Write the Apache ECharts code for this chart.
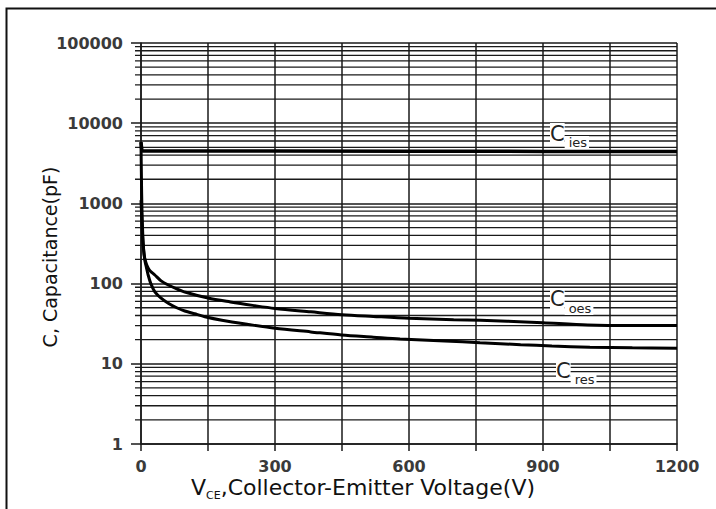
<!DOCTYPE html>
<html>
<head>
<meta charset="utf-8">
<script src="https://cdn.jsdelivr.net/npm/echarts@6/dist/echarts.min.js"></script>
<style>
html,body{margin:0;padding:0;background:#fff;}
#chart{width:716px;height:509px;}
</style>
</head>
<body>
<div id="chart"></div>
<script>
// Data (V in volts, C in pF)
var ciesV = [0, 2, 5, 20, 100, 300, 600, 900, 1200];
var ciesC = [5800, 4550, 4500, 4500, 4500, 4500, 4480, 4450, 4450];

var coesV = [0, 2, 4, 7, 10, 15, 20, 31, 45, 61, 80, 100, 150, 200, 250, 300, 380, 450, 520, 600, 700, 760, 820, 900, 1000, 1100, 1200];
var coesC = [1100, 600, 350, 230, 190, 160, 145, 128, 108, 96, 86, 78, 66, 59, 53.5, 49, 44.5, 41, 39, 37, 35.5, 35, 34, 32.5, 30.5, 30, 30];

var cresV = [0, 1, 2, 4, 6, 9, 12, 16, 22, 31, 45, 61, 80, 98, 120, 143, 181, 240, 300, 380, 449, 520, 580, 680, 759, 850, 920, 1005, 1100, 1200];
var cresC = [5800, 2000, 900, 400, 260, 190, 160, 128, 100, 79, 66, 57, 50, 45.5, 42, 38.7, 35, 31, 27.7, 25, 22.9, 21.5, 20.4, 19.3, 18.3, 17.3, 16.7, 16.1, 15.8, 15.6];

var xTickLabels = [0, 300, 600, 900, 1200];
var yTickLabels = [1, 10, 100, 1000, 10000, 100000];
var minorMultipliers = [2, 3, 4, 5, 6, 7, 8, 9];
var decades = [1, 10, 100, 1000, 10000];

function pairs(xs, ys) { return xs.map(function (x, i) { return [x, ys[i]]; }); }

var minorGrid = [];
decades.forEach(function (d) { minorMultipliers.forEach(function (m) { minorGrid.push([0, m * d]); }); });

var chart = echarts.init(document.getElementById('chart'), null, { renderer: 'svg' });
var gridColor = '#1a1a1a';
var labelFont = 'DejaVu Sans';
var tickColor = '#3a3a3a';

function capLabel(main, sub, left, top, lh) {
  return {
    type: 'text', left: left, top: top, z: 100,
    style: {
      text: '{c|' + main + '}{s|' + sub + '}',
      rich: {
        c: { fontFamily: labelFont, fontSize: 21, lineHeight: lh, verticalAlign: 'top', backgroundColor: '#fff', fill: '#222' },
        s: { fontFamily: labelFont, fontSize: 13, lineHeight: 14, verticalAlign: 'bottom', backgroundColor: '#fff', fill: '#222', padding: [0, 2, 0, 4] }
      }
    }
  };
}

chart.setOption({
  animation: false,
  backgroundColor: '#fff',
  grid: { left: 141, right: 39, top: 43, bottom: 65, containLabel: false },
  xAxis: {
    type: 'value', min: 0, max: 1200, interval: 150,
    axisLine: { show: true, lineStyle: { color: gridColor, width: 1.5 } },
    axisTick: { show: true, length: 7, lineStyle: { color: gridColor, width: 1.5 } },
    splitLine: { show: true, lineStyle: { color: gridColor, width: 1.5 } },
    axisLabel: {
      margin: 14, color: tickColor, fontFamily: labelFont, fontWeight: 'bold', fontSize: 16, lineHeight: 16,
      formatter: function (v) { return xTickLabels.indexOf(v) >= 0 ? String(v) : ''; }
    }
  },
  yAxis: {
    type: 'log', logBase: 10, min: 1, max: 100000,
    axisLine: { show: true, lineStyle: { color: gridColor, width: 1.5 } },
    axisTick: { show: true, length: 10, lineStyle: { color: gridColor, width: 1.5 } },
    splitLine: { show: true, lineStyle: { color: gridColor, width: 1.5 } },
    axisLabel: {
      margin: 18, color: tickColor, fontFamily: labelFont, fontWeight: 'bold', fontSize: 16,
      formatter: function (v) { return yTickLabels.indexOf(v) >= 0 ? String(v) : ''; }
    }
  },
  series: [
    {
      type: 'custom', name: 'minor grid', data: minorGrid, silent: true, z: 1, clip: false,
      encode: { x: 0, y: 1 },
      renderItem: function (params, api) {
        var v = api.value(1);
        var p0 = api.coord([0, v]);
        var p1 = api.coord([1200, v]);
        return {
          type: 'line',
          shape: { x1: p0[0] - 6, y1: p0[1], x2: p1[0], y2: p1[1] },
          style: { stroke: gridColor, lineWidth: 1.3 }
        };
      }
    },
    {
      type: 'line', name: 'Cies', data: pairs(ciesV, ciesC), showSymbol: false, z: 5,
      lineStyle: { color: '#000', width: 3.5 }
    },
    {
      type: 'line', name: 'Coes', data: pairs(coesV, coesC), showSymbol: false, smooth: 0.3, z: 5,
      lineStyle: { color: '#000', width: 3 }
    },
    {
      type: 'line', name: 'Cres', data: pairs(cresV, cresC), showSymbol: false, smooth: 0.3, z: 5,
      lineStyle: { color: '#000', width: 3 }
    }
  ],
  graphic: [
    { type: 'rect', left: 4, top: 6, shape: { width: 800, height: 600 }, style: { fill: null, stroke: '#111', lineWidth: 2 }, silent: true, z: 100 },
    {
      type: 'text', left: 191, top: 476, z: 100,
      style: {
        text: '{m|V}{s|CE}{m|,Collector-Emitter Voltage(V)}',
        rich: {
          m: { fontFamily: labelFont, fontSize: 22, lineHeight: 25, verticalAlign: 'top', fill: '#111' },
          s: { fontFamily: labelFont, fontSize: 11, lineHeight: 12, verticalAlign: 'bottom', fill: '#111' }
        }
      }
    },
    {
      type: 'text', x: 50, y: 257, rotation: Math.PI / 2, z: 100,
      style: { text: 'C, Capacitance(pF)', fontFamily: labelFont, fontSize: 19, fill: '#111', textAlign: 'center', textVerticalAlign: 'middle' }
    },
    capLabel('C', 'ies', 550, 123, 26),
    capLabel('C', 'oes', 550, 288, 27),
    capLabel('C', 'res', 556, 360, 26)
  ]
});
</script>
</body>
</html>
